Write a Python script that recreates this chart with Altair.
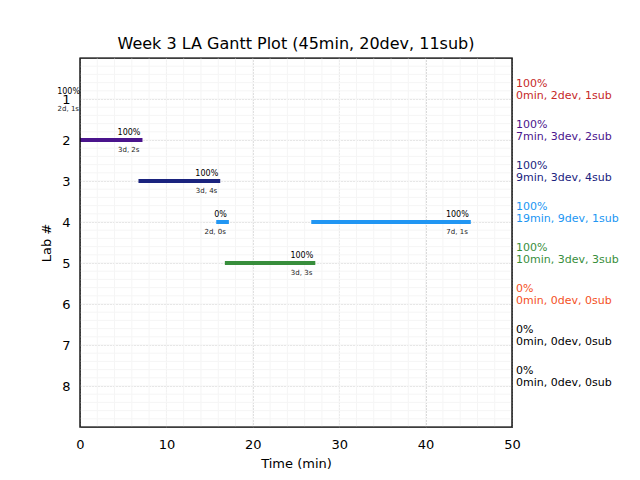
import altair as alt
import pandas as pd

# Segments
seg_lab = [1, 2, 3, 4, 4, 5]
seg_start = [0, 0, 7, 16, 27, 17]
seg_end = [0, 7, 16, 17, 45, 27]
seg_pct = ["100%", "100%", "100%", "0%", "100%", "100%"]
seg_detail = ["2d, 1s", "3d, 2s", "3d, 4s", "2d, 0s", "7d, 1s", "3d, 3s"]

# Per-lab summary
labs = [1, 2, 3, 4, 5, 6, 7, 8]
lab_pct = ["100%", "100%", "100%", "100%", "100%", "0%", "0%", "0%"]
lab_summary = ["0min, 2dev, 1sub", "7min, 3dev, 2sub", "9min, 3dev, 4sub",
               "19min, 9dev, 1sub", "10min, 3dev, 3sub", "0min, 0dev, 0sub",
               "0min, 0dev, 0sub", "0min, 0dev, 0sub"]
lab_colors = ["#c62828", "#4a148c", "#1a237e", "#2196f3", "#388e3c",
              "#f4511e", "#000000", "#000000"]

x_ticks = [0, 10, 20, 30, 40, 50]
y_ticks = [1, 2, 3, 4, 5, 6, 7, 8]
minor_x = list(range(0, 51, 2))
minor_y = [round(i * 0.2, 1) for i in range(46)]
x_range = [0, 50]
y_range = [0, 9]

FONT = "DejaVu Sans"
color_map = dict(zip(labs, lab_colors))

seg = pd.DataFrame({"lab": seg_lab, "start": seg_start, "end": seg_end,
                    "pct": seg_pct, "detail": seg_detail})
seg["color"] = seg["lab"].map(color_map)
summ = pd.DataFrame({"lab": labs, "pct": lab_pct, "summary": lab_summary,
                     "color": lab_colors, "xr": [x_range[1]] * len(labs)})

xscale = alt.Scale(domain=x_range, nice=False, zero=False)
yscale = alt.Scale(domain=y_range, reverse=True, nice=False, zero=False)

xaxis = alt.Axis(values=x_ticks, grid=True, gridDash=[1, 2], gridColor="#b0b0b0",
                 ticks=False, domain=False, labelFont=FONT, labelFontSize=13,
                 labelColor="black", labelPadding=11, titleFont=FONT,
                 titleFontSize=13, titleFontWeight="normal", titleColor="black",
                 titlePadding=6, format="d", labelFlush=False)
yaxis = alt.Axis(values=y_ticks, grid=True, gridDash=[1, 2], gridColor="#b0b0b0",
                 ticks=False, domain=False, labelFont=FONT, labelFontSize=13,
                 labelColor="black", labelPadding=10, titleFont=FONT,
                 titleFontSize=13, titleFontWeight="normal", titleColor="black",
                 titlePadding=8, format="d")
XT = "Time (min)"
YT = "Lab #"

mx = alt.Chart(pd.DataFrame({"v": minor_x})).mark_rule(
    color="#f5f5f5", strokeWidth=1).encode(x=alt.X("v:Q", scale=xscale, axis=xaxis, title=XT))
my = alt.Chart(pd.DataFrame({"v": minor_y})).mark_rule(
    color="#f5f5f5", strokeWidth=1).encode(y=alt.Y("v:Q", scale=yscale, axis=yaxis, title=YT))

bars = alt.Chart(seg).transform_filter("datum.end > datum.start").mark_rule(
    strokeWidth=4, strokeCap="square", clip=True).encode(
    x=alt.X("start:Q", scale=xscale, axis=xaxis, title=XT),
    x2="end:Q",
    y=alt.Y("lab:Q", scale=yscale, axis=yaxis, title=YT),
    color=alt.Color("color:N", scale=None),
)

pct_text = alt.Chart(seg).mark_text(align="right", baseline="middle", dy=-7.5,
                                    fontSize=8, font=FONT, color="black").encode(
    x=alt.X("end:Q", scale=xscale, axis=xaxis, title=XT),
    y=alt.Y("lab:Q", scale=yscale, axis=yaxis, title=YT),
    text="pct:N",
)
det_text = alt.Chart(seg).mark_text(align="right", baseline="middle", dy=10, dx=-1,
                                    fontSize=7, font=FONT, color="#222222").encode(
    x=alt.X("end:Q", scale=xscale, axis=xaxis, title=XT),
    y=alt.Y("lab:Q", scale=yscale, axis=yaxis, title=YT),
    text="detail:N",
)

r1 = alt.Chart(summ).mark_text(align="left", baseline="middle", dx=4, dy=-15,
                               fontSize=11, font=FONT).encode(
    x=alt.X("xr:Q", scale=xscale, axis=xaxis, title=XT),
    y=alt.Y("lab:Q", scale=yscale, axis=yaxis, title=YT),
    text="pct:N",
    color=alt.Color("color:N", scale=None),
)
r2 = alt.Chart(summ).mark_text(align="left", baseline="middle", dx=4, dy=-3.5,
                               fontSize=11, font=FONT).encode(
    x=alt.X("xr:Q", scale=xscale, axis=xaxis, title=XT),
    y=alt.Y("lab:Q", scale=yscale, axis=yaxis, title=YT),
    text="summary:N",
    color=alt.Color("color:N", scale=None),
)

frame = alt.Chart(pd.DataFrame({"a": [0]})).mark_rect(
    fill=None, stroke="black", strokeWidth=1.2).encode(
    x=alt.datum(x_range[0], scale=xscale, axis=xaxis, title=XT),
    x2=alt.datum(x_range[1]),
    y=alt.datum(y_range[0], scale=yscale, axis=yaxis, title=YT),
    y2=alt.datum(y_range[1]),
)

chart = alt.layer(mx, my, bars, pct_text, det_text, r1, r2, frame).properties(
    width=432, height=369,
    title=alt.TitleParams("Week 3 LA Gantt Plot (45min, 20dev, 11sub)", font=FONT,
                          fontSize=16, fontWeight="normal", color="black", offset=5),
    autosize=alt.AutoSizeParams(type="none"),
    padding={"left": 72, "top": 50, "right": 112, "bottom": 45},
).configure(background="white").configure_view(stroke="black", strokeWidth=1.2)

chart.save("out.html", embed_options={"renderer": "svg", "actions": False})
